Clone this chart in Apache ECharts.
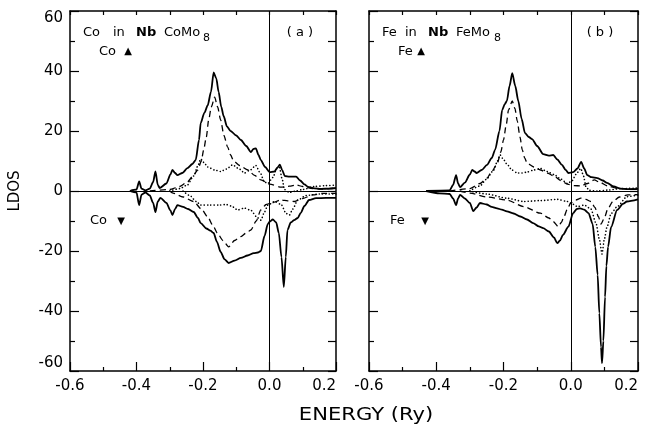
<!DOCTYPE html>
<html><head><meta charset="utf-8">
<script src="https://cdn.jsdelivr.net/npm/echarts@6/dist/echarts.min.js"></script>
<style>html,body{margin:0;padding:0;background:#fff}#c{width:654px;height:431px}</style>
</head><body><div id="c"></div>
<script>
// ---- Axis ticks ----
const xMin = -0.6, xMax = 0.2, xStep = 0.2;
const yMin = -60, yMax = 60, yStep = 20;

// ---- Panel (a): Co in NbCoMo8 ----
const aUpTotal = [[-0.42,0],[-0.40,0.5],[-0.392,3.2],[-0.385,0.8],[-0.373,0.2],[-0.36,0.8],[-0.35,3],[-0.343,6.5],[-0.336,2],[-0.33,1],[-0.31,2.5],[-0.298,5.5],[-0.292,7],[-0.284,6],[-0.277,5.3],[-0.262,6],[-0.247,7.6],[-0.232,9],[-0.222,10.3],[-0.212,17],[-0.207,22.6],[-0.196,26],[-0.186,28.5],[-0.176,33],[-0.168,39.5],[-0.16,37.5],[-0.153,33],[-0.145,28],[-0.138,25],[-0.128,21.5],[-0.117,20],[-0.1,18.5],[-0.086,17],[-0.07,15],[-0.056,13],[-0.048,14],[-0.041,14.2],[-0.033,12],[-0.026,10.3],[-0.013,8],[0,6.3],[0.015,6.5],[0.024,7.8],[0.031,8.8],[0.038,7],[0.046,5],[0.06,4.8],[0.08,4.8],[0.092,3.5],[0.105,2.2],[0.116,1.4],[0.135,0.9],[0.155,0.7],[0.18,0.8],[0.2,1]];
const aUpDashed = [[-0.36,0],[-0.3,0.5],[-0.27,1.5],[-0.247,3],[-0.23,5],[-0.216,7],[-0.205,10],[-0.198,13.7],[-0.19,18],[-0.183,23.7],[-0.175,28],[-0.165,31.3],[-0.156,28],[-0.147,23.7],[-0.137,18.5],[-0.126,14.7],[-0.117,12],[-0.108,10],[-0.09,8.5],[-0.065,7],[-0.045,5.2],[-0.026,3.7],[0,2.3],[0.035,1.3],[0.06,1.6],[0.08,2],[0.1,1.5],[0.13,0.8],[0.155,0.6],[0.2,1]];
const aUpDotted = [[-0.3,0],[-0.27,0.8],[-0.247,2],[-0.228,5],[-0.215,8.5],[-0.207,10.7],[-0.197,9.5],[-0.186,8],[-0.165,7],[-0.147,6.5],[-0.13,7.3],[-0.111,8.7],[-0.093,7.5],[-0.075,6],[-0.058,7],[-0.041,8.5],[-0.028,6],[-0.015,3],[-0.005,2.5],[0.01,4.5],[0.022,7.5],[0.03,7.8],[0.038,4],[0.045,0.5],[0.06,-0.5],[0.08,0],[0.1,0.5],[0.135,1.5],[0.17,1.8],[0.2,2]];
const aDnTotal = [[-0.42,0],[-0.40,-0.5],[-0.392,-4.7],[-0.385,-1.2],[-0.373,-0.5],[-0.36,-1.5],[-0.35,-4],[-0.343,-7],[-0.336,-3.5],[-0.328,-2.3],[-0.31,-4],[-0.298,-6.5],[-0.292,-8],[-0.284,-6],[-0.277,-4.7],[-0.26,-5.3],[-0.245,-6],[-0.228,-7],[-0.215,-9],[-0.207,-10.7],[-0.19,-12.5],[-0.178,-13.2],[-0.168,-14],[-0.158,-17],[-0.147,-20.3],[-0.135,-22.8],[-0.123,-24],[-0.105,-23.2],[-0.086,-22.3],[-0.066,-21.5],[-0.047,-20.7],[-0.035,-20.5],[-0.026,-20],[-0.015,-15],[-0.005,-11],[0,-10.3],[0.01,-9.5],[0.02,-10.5],[0.028,-14],[0.036,-22],[0.043,-32],[0.049,-22],[0.054,-13],[0.064,-10.5],[0.074,-9.7],[0.085,-9],[0.094,-7.3],[0.105,-5],[0.119,-3],[0.14,-2.4],[0.17,-2.3],[0.2,-2.3]];
const aDnDashed = [[-0.3,0],[-0.29,-0.7],[-0.26,-2],[-0.228,-3.5],[-0.205,-6],[-0.186,-8.6],[-0.17,-11.5],[-0.157,-14],[-0.14,-16.5],[-0.123,-18.6],[-0.105,-16.5],[-0.086,-15.2],[-0.07,-14],[-0.056,-13],[-0.04,-10],[-0.026,-6.3],[-0.01,-4.5],[0.005,-4],[0.035,-3],[0.055,-3.3],[0.075,-3.5],[0.1,-2.5],[0.13,-1.3],[0.16,-0.8],[0.2,-0.8]];
const aDnDotted = [[-0.26,0],[-0.24,-1.5],[-0.22,-3.5],[-0.207,-4.7],[-0.18,-4.7],[-0.15,-4.7],[-0.13,-4.5],[-0.115,-5],[-0.096,-6.3],[-0.075,-5.7],[-0.055,-6.5],[-0.04,-8.5],[-0.026,-9.7],[-0.015,-7],[-0.005,-4.7],[0.015,-3.5],[0.035,-4.5],[0.05,-7.5],[0.06,-8],[0.07,-6],[0.085,-3],[0.11,-1.5],[0.15,-1],[0.2,-1]];

// ---- Panel (b): Fe in NbFeMo8 ----
const bUpTotal = [[-0.43,0],[-0.36,0.2],[-0.35,2],[-0.341,5.3],[-0.335,2.5],[-0.329,1.3],[-0.315,2.8],[-0.3,5.5],[-0.293,7],[-0.286,6.5],[-0.28,6],[-0.265,7],[-0.249,8.7],[-0.235,11],[-0.225,13.7],[-0.212,20],[-0.204,27],[-0.196,29],[-0.19,30],[-0.182,35],[-0.174,39.3],[-0.165,35],[-0.156,30],[-0.146,24],[-0.136,19.3],[-0.125,18],[-0.115,17.3],[-0.1,15],[-0.082,12.3],[-0.065,11.8],[-0.052,12],[-0.04,10.5],[-0.026,8.7],[-0.015,7],[-0.007,6],[0.007,6.3],[0.02,7.5],[0.031,9.7],[0.04,7.5],[0.049,5.3],[0.062,4.6],[0.079,4.3],[0.095,3.5],[0.108,2.7],[0.128,1.5],[0.148,0.8],[0.17,0.6],[0.2,0.7]];
const bUpDashed = [[-0.36,0],[-0.3,0.8],[-0.27,2.5],[-0.249,4.3],[-0.235,6.5],[-0.219,9],[-0.208,13],[-0.2,17],[-0.192,22],[-0.185,27],[-0.174,30],[-0.166,27.5],[-0.159,23.3],[-0.151,18],[-0.144,13.7],[-0.137,11],[-0.13,9.3],[-0.11,8],[-0.09,7],[-0.07,6],[-0.05,5],[-0.03,3.5],[-0.01,2.3],[0.01,1.8],[0.03,1.7],[0.05,2.5],[0.07,3.7],[0.085,3],[0.11,1.7],[0.14,0.8],[0.2,0.5]];
const bUpDotted = [[-0.3,0],[-0.27,1.7],[-0.25,4],[-0.229,7],[-0.218,10],[-0.21,12],[-0.2,10.5],[-0.19,9],[-0.175,7],[-0.159,6],[-0.145,6],[-0.13,6.3],[-0.11,7],[-0.09,7.5],[-0.07,6.5],[-0.05,5.5],[-0.03,4],[-0.01,2.5],[0.005,3.5],[0.015,5.5],[0.03,7.5],[0.038,5],[0.045,1.5],[0.055,0.2],[0.08,0],[0.11,0.3],[0.15,0.8],[0.2,1]];
const bDnTotal = [[-0.43,0],[-0.39,-0.8],[-0.36,-1],[-0.35,-2.5],[-0.341,-4.7],[-0.335,-2.5],[-0.329,-1.3],[-0.315,-2.5],[-0.3,-4],[-0.29,-6.7],[-0.28,-5.5],[-0.27,-4],[-0.25,-4.5],[-0.235,-5.3],[-0.219,-5.8],[-0.205,-6.2],[-0.19,-6.8],[-0.17,-7.5],[-0.15,-8.5],[-0.13,-9.5],[-0.112,-10.7],[-0.095,-11.8],[-0.082,-12.4],[-0.065,-13.5],[-0.05,-15.5],[-0.04,-17.4],[-0.032,-16.5],[-0.023,-14.6],[-0.007,-11.9],[0.007,-7.4],[0.018,-6],[0.028,-5.8],[0.04,-6.2],[0.053,-7.4],[0.065,-11],[0.073,-18.6],[0.08,-28],[0.085,-40.7],[0.09,-52],[0.093,-57.4],[0.097,-50],[0.102,-35.3],[0.106,-25],[0.111,-18.6],[0.12,-12],[0.138,-6.3],[0.155,-4.3],[0.167,-3.5],[0.2,-2.8]];
const bDnDashed = [[-0.33,0],[-0.3,-0.7],[-0.249,-2],[-0.19,-3],[-0.14,-5.2],[-0.09,-7.4],[-0.065,-9],[-0.052,-10.2],[-0.037,-11.9],[-0.028,-10.5],[-0.02,-8.5],[-0.01,-6],[0,-4],[0.015,-3],[0.03,-2.4],[0.045,-2.8],[0.06,-3.5],[0.072,-5.5],[0.082,-8.5],[0.09,-11],[0.1,-9],[0.11,-6],[0.125,-3.5],[0.145,-2],[0.17,-1.3],[0.2,-1.2]];
const bDnDotted = [[-0.3,0],[-0.25,-1],[-0.19,-2.4],[-0.14,-3.5],[-0.09,-3.2],[-0.04,-2.8],[-0.01,-3.5],[0,-4],[0.02,-5.2],[0.04,-4.7],[0.06,-6],[0.075,-10.7],[0.085,-16],[0.093,-21],[0.1,-16],[0.108,-11.9],[0.12,-7.5],[0.138,-5.2],[0.167,-1.9],[0.2,-1.3]];

// ---- Texts ----
const xTitle = 'ENERGY (Ry)';
const yTitle = 'LDOS';

const FONT = 'DejaVu Sans';
const BLACK = '#000';
const chart = echarts.init(document.getElementById('c'), null, {renderer: 'canvas'});

function xAxes(gi) {
  return [{
    type: 'value', gridIndex: gi, position: 'bottom', min: xMin, max: xMax, interval: xStep,
    axisLine: {onZero: false, lineStyle: {color: BLACK, width: 1.5}},
    axisTick: {inside: true, length: 9, lineStyle: {color: BLACK, width: 1.2}},
    minorTick: {show: true, splitNumber: 2, length: 4, lineStyle: {color: BLACK, width: 1.2}},
    splitLine: {show: false}, minorSplitLine: {show: false},
    axisLabel: {color: BLACK, fontSize: 15, fontFamily: FONT, margin: 8, alignMaxLabel: 'right',
      formatter: v => (Math.abs(v) < 1e-9 ? 0 : v).toFixed(1)}
  }, {
    type: 'value', gridIndex: gi, position: 'top', min: xMin, max: xMax, interval: 0.1,
    axisLine: {onZero: false, lineStyle: {color: BLACK, width: 1.5}},
    axisTick: {inside: true, length: 4, lineStyle: {color: BLACK, width: 1.2}},
    axisLabel: {show: false}, splitLine: {show: false}
  }];
}
function yAxes(gi, labels) {
  return [{
    type: 'value', gridIndex: gi, position: 'left', min: yMin, max: yMax, interval: yStep,
    axisLine: {onZero: false, lineStyle: {color: BLACK, width: 1.5}},
    axisTick: {inside: true, length: 9, lineStyle: {color: BLACK, width: 1.2}},
    minorTick: {show: true, splitNumber: 2, length: 5, lineStyle: {color: BLACK, width: 1.2}},
    splitLine: {show: false}, minorSplitLine: {show: false},
    axisLabel: {show: labels, color: BLACK, fontSize: 15, fontFamily: FONT, margin: 7,
      verticalAlignMaxLabel: 'top', verticalAlignMinLabel: 'bottom'}
  }, {
    type: 'value', gridIndex: gi, position: 'right', min: yMin, max: yMax, interval: 10,
    axisLine: {onZero: false, lineStyle: {color: BLACK, width: 1.5}},
    axisTick: {inside: true, length: 8, lineStyle: {color: BLACK, width: 1.2}},
    axisLabel: {show: false}, splitLine: {show: false}
  }];
}

const styles = {
  solid: {color: BLACK, width: 1.8, type: 'solid'},
  dashed: {color: BLACK, width: 1.3, type: [6, 4]},
  dotted: {color: BLACK, width: 1.6, type: [0.1, 3.2], cap: 'round'}
};
function line(data, gi, kind, withRef) {
  const s = {
    type: 'line', data: data, xAxisIndex: gi * 2, yAxisIndex: gi * 2,
    symbol: 'none', showSymbol: false, smooth: 0.25, smoothMonotone: 'x',
    lineStyle: styles[kind], silent: true, animation: false, z: 3
  };
  if (withRef) {
    s.markLine = {
      silent: true, symbol: ['none', 'none'], animation: false,
      label: {show: false},
      lineStyle: {color: BLACK, width: 1, type: 'solid'},
      data: [{yAxis: 0}, {xAxis: 0}]
    };
  }
  return s;
}

function txt(x, y, text, size, align, extra) {
  return {
    type: 'text', silent: true,
    style: Object.assign({x: x, y: y, text: text, fill: BLACK, fontSize: size, fontFamily: FONT,
      textAlign: align || 'left', textVerticalAlign: 'middle'}, extra || {})
  };
}

chart.setOption({
  backgroundColor: '#fff',
  animation: false,
  grid: [
    {left: 70, top: 11, width: 266, height: 360},
    {left: 369, top: 11, width: 269, height: 360}
  ],
  xAxis: [...xAxes(0), ...xAxes(1)],
  yAxis: [...yAxes(0, true), ...yAxes(1, false)],
  series: [
    line(aUpTotal, 0, 'solid', true), line(aUpDashed, 0, 'dashed'), line(aUpDotted, 0, 'dotted'),
    line(aDnTotal, 0, 'solid'), line(aDnDashed, 0, 'dashed'), line(aDnDotted, 0, 'dotted'),
    line(bUpTotal, 1, 'solid', true), line(bUpDashed, 1, 'dashed'), line(bUpDotted, 1, 'dotted'),
    line(bDnTotal, 1, 'solid'), line(bDnDashed, 1, 'dashed'), line(bDnDotted, 1, 'dotted')
  ],
  graphic: [
    {type: 'text', silent: true, x: 366, y: 416, scaleX: 1.24,
      style: {x: 0, y: 0, text: xTitle, fill: BLACK, fontSize: 17, fontFamily: FONT, textAlign: 'center', textVerticalAlign: 'middle'}},
    {type: 'text', silent: true, x: 15, y: 191, rotation: Math.PI / 2,
      style: {x: 0, y: 0, text: yTitle, fill: BLACK, fontSize: 15, fontFamily: FONT, textAlign: 'center', textVerticalAlign: 'middle'}},
    // panel (a) caption
    txt(83, 33, 'Co', 13), txt(113, 33, 'in', 13), txt(136, 33, 'Nb', 13, 'left', {fontWeight: 'bold'}),
    txt(164, 33, 'CoMo', 13), txt(203, 38, '8', 11),
    txt(300, 33, '( a )', 13, 'center'),
    txt(99, 52, 'Co', 13), txt(128, 51, '▲', 10, 'center'),
    txt(90, 221, 'Co', 13), txt(121, 221, '▼', 10, 'center'),
    // panel (b) caption
    txt(382, 33, 'Fe', 13), txt(405, 33, 'in', 13), txt(428, 33, 'Nb', 13, 'left', {fontWeight: 'bold'}),
    txt(456, 33, 'FeMo', 13), txt(494, 38, '8', 11),
    txt(600, 33, '( b )', 13, 'center'),
    txt(398, 52, 'Fe', 13), txt(421, 51, '▲', 10, 'center'),
    txt(390, 221, 'Fe', 13), txt(425, 221, '▼', 10, 'center')
  ]
});
</script></body></html>
